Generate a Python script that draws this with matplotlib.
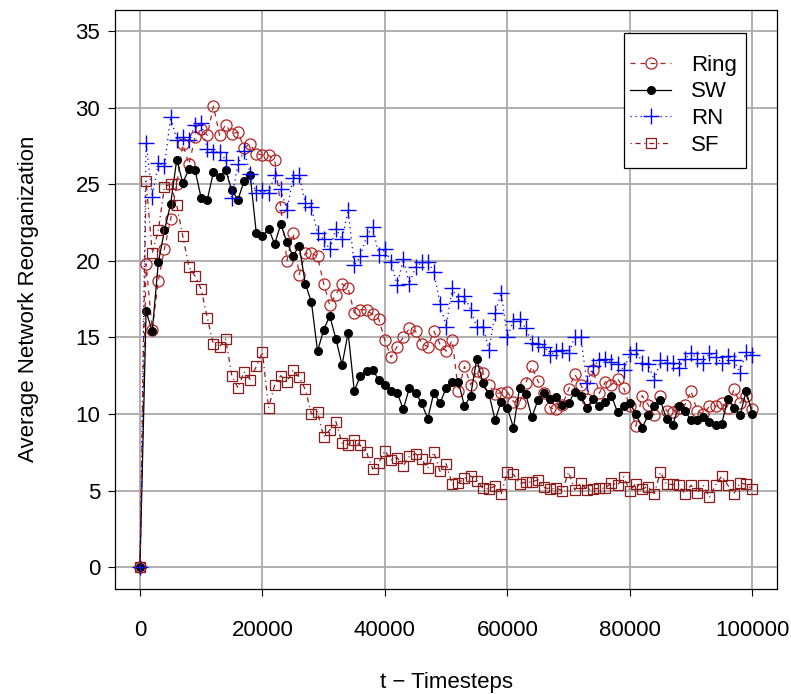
import numpy as np
import matplotlib
matplotlib.use("Agg")
import matplotlib.pyplot as plt
from matplotlib.patches import Rectangle

plt.rcParams['font.family'] = ['Liberation Sans', 'DejaVu Sans']

# timesteps (one sample every 1000 steps)
t = np.arange(0, 100001, 1000)

ring = [0, 19.8, 15.5, 18.7, 20.8, 22.7, 25.0, 27.6, 26.3, 28.1,
        28.6, 28.2, 30.1, 28.2, 28.9, 28.3, 28.4, 27.4, 27.6, 27.0,
        26.9, 26.9, 26.6, 23.5, 20.0, 21.8, 19.1, 20.5, 20.5, 20.3,
        18.5, 17.1, 17.8, 18.5, 18.2, 16.6, 16.8, 16.8, 16.5, 16.2,
        14.8, 13.7, 14.4, 15.0, 15.6, 15.4, 14.6, 14.4, 15.4, 14.55,
        14.1, 14.8, 11.5, 13.1, 11.9, 12.8, 12.65, 11.9, 11.3, 11.4,
        11.45, 10.8, 10.7, 12.0, 13.1, 12.15, 11.4, 10.4, 10.3, 10.6,
        11.6, 12.6, 11.9, 11.0, 12.9, 11.35, 12.1, 11.9, 12.3, 11.7,
        10.5, 9.2, 11.2, 10.6, 9.9, 11.2, 10.2, 10.1, 10.4, 10.6,
        11.5, 10.2, 10.0, 10.5, 10.5, 10.7, 10.4, 11.6, 10.7, 11.2,
        10.3]

sw = [0, 16.7, 15.4, 19.9, 22.0, 23.7, 26.6, 25.1, 26.0, 25.9,
      24.1, 24.0, 25.8, 25.5, 25.9, 24.6, 24.0, 25.2, 25.6, 21.8,
      21.6, 22.1, 21.1, 22.4, 21.2, 20.3, 21.0, 18.5, 17.3, 14.1,
      15.5, 16.4, 14.9, 13.2, 15.3, 11.5, 12.5, 12.8, 12.9, 12.2,
      11.9, 11.5, 11.4, 10.3, 11.7, 11.4, 10.7, 9.7, 11.4, 10.7,
      11.7, 12.1, 12.1, 10.5, 11.2, 13.6, 12.0, 11.3, 9.6, 10.8,
      10.4, 9.1, 11.7, 11.3, 9.8, 10.9, 11.35, 11.0, 11.1, 10.6,
      10.7, 11.45, 11.2, 10.4, 11.0, 10.5, 10.8, 11.2, 10.1, 10.5,
      10.7, 10.0, 9.1, 9.9, 10.5, 10.9, 9.65, 9.3, 10.5, 10.2,
      9.6, 9.6, 9.8, 9.5, 9.3, 9.35, 10.95, 10.4, 9.9, 11.5,
      10.0]

rn = [0, 27.7, 24.2, 26.4, 26.2, 29.4, 27.9, 28.1, 27.9, 28.9,
      29.0, 27.3, 27.1, 27.1, 26.6, 24.1, 26.3, 27.2, 25.7, 24.4,
      24.6, 24.4, 25.6, 24.7, 23.3, 25.4, 25.6, 23.75, 23.5, 21.8,
      21.4, 20.75, 22.1, 21.4, 23.3, 19.7, 20.3, 21.6, 22.2, 20.4,
      20.75, 19.9, 18.4, 20.1, 18.5, 19.6, 19.9, 19.9, 19.3, 17.2,
      15.7, 18.2, 17.4, 17.7, 16.8, 15.7, 15.7, 14.2, 16.6, 17.9,
      15.0, 16.1, 16.2, 15.6, 14.65, 14.6, 14.4, 13.85, 14.1, 14.2,
      13.95, 15.0, 15.0, 12.0, 13.1, 13.5, 13.6, 13.4, 13.25, 12.9,
      13.9, 14.2, 13.35, 13.25, 12.2, 13.5, 13.3, 13.35, 13.0, 13.6,
      14.0, 13.6, 13.35, 13.95, 13.75, 13.35, 13.8, 13.5, 12.7, 14.05,
      13.85]

sf = [0, 25.2, 20.5, 22.0, 24.85, 25.0, 23.65, 21.6, 19.6, 19.0,
      18.15, 16.25, 14.55, 14.4, 14.9, 12.5, 11.7, 12.75, 12.25, 13.1,
      14.05, 10.4, 11.9, 12.5, 12.1, 12.85, 12.4, 11.6, 10.0, 10.15,
      8.5, 8.95, 9.5, 8.1, 8.0, 8.3, 7.95, 7.5, 6.4, 6.8,
      7.6, 7.0, 7.15, 6.6, 7.25, 7.4, 7.05, 6.45, 7.5, 6.25,
      6.75, 5.4, 5.5, 5.8, 5.95, 5.65, 5.15, 5.1, 5.3, 4.8,
      6.2, 6.05, 5.45, 5.55, 5.55, 5.7, 5.2, 5.1, 5.15, 5.0,
      6.2, 5.05, 5.5, 5.05, 5.1, 5.15, 5.15, 5.5, 5.35, 5.9,
      5.0, 5.45, 5.1, 5.25, 4.8, 6.2, 5.4, 5.4, 5.35, 4.8,
      5.35, 4.85, 5.35, 4.55, 5.35, 5.95, 5.35, 4.8, 5.5, 5.4,
      5.1]

xticks = [0, 20000, 40000, 60000, 80000, 100000]
yticks = [0, 5, 10, 15, 20, 25, 30, 35]

ring_col = "#B22222"
sf_col = "#8B1A1A"
fs = 16

fig = plt.figure(figsize=(7.91, 6.94), dpi=100)
ax = fig.add_axes([0.146, 0.152, 0.836, 0.834])

for v in xticks:
    ax.axvline(v, color="#aaaaaa", lw=1.3, zorder=0)
for v in yticks:
    ax.axhline(v, color="#aaaaaa", lw=1.3, zorder=0)

ax.plot(t, ring, color=ring_col, ls=(0, (4, 4)), lw=0.9, marker="o", ms=8,
        mfc="none", mec=ring_col, mew=0.9, label="Ring")
ax.plot(t, sw, color="black", ls="-", lw=0.9, marker="o", ms=5.5,
        mfc="black", mec="black", label="SW")
ax.plot(t, rn, color="blue", ls=(0, (1, 3)), lw=0.9, marker="+", ms=11,
        mew=1.0, label="RN")
ax.plot(t, sf, color=sf_col, ls=(0, (1, 3, 4, 3)), lw=0.9, marker="s", ms=7.5,
        mfc="none", mec=sf_col, mew=0.9, label="SF")

ax.set_xlim(-4000, 104000)
ax.set_ylim(-1.4, 36.4)
ax.set_xticks(xticks)
ax.set_xticklabels([str(v) for v in xticks])
ax.set_yticks(yticks)
ax.tick_params(axis="both", direction="out", length=5, width=0.8,
               labelsize=fs, colors="black")
ax.tick_params(axis="x", pad=18)
ax.tick_params(axis="y", pad=6)
for s in ax.spines.values():
    s.set_linewidth(0.9)
    s.set_color("black")

ax.set_xlabel("t \u2212 Timesteps", fontsize=fs, labelpad=22)
ax.set_ylabel("Average Network Reorganization", fontsize=fs, labelpad=26)

# legend box drawn separately, entries placed inside without frame
ax.add_patch(Rectangle((0.769, 0.7263), 0.185, 0.2333, transform=ax.transAxes,
                       facecolor="white", edgecolor="black", lw=0.9, zorder=5))
leg = ax.legend(loc="center left", bbox_to_anchor=(0.7784, 0.835),
                fontsize=fs, frameon=False, handlelength=1.85,
                borderpad=0, labelspacing=0.26, handletextpad=0.9,
                borderaxespad=0)
leg.set_zorder(6)

fig.savefig("out.png", dpi=100)
